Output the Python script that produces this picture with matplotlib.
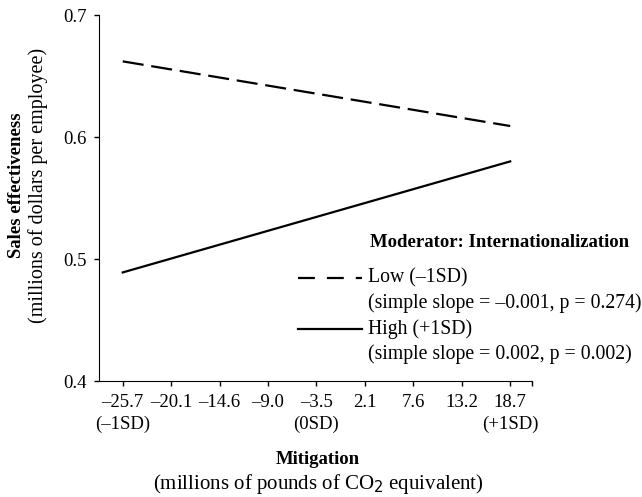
import matplotlib.pyplot as plt
from matplotlib.lines import Line2D

plt.rcParams['font.family'] = ['Liberation Serif', 'DejaVu Serif']
plt.rcParams['font.size'] = 13.5

# mitigation tick values (x positions are evenly spaced)
mitigation = ["–25.7", "–20.1", "–14.6", "–9.0", "–3.5", "2.1", "7.6", "13.2", "18.7"]
sd_marks = {0: "(–1SD)", 4: "(0SD)", 8: "(+1SD)"}

# simple slopes, endpoints at -1SD and +1SD of mitigation
line_x = [0, 8]
low_y = [0.662, 0.609]
high_y = [0.489, 0.580]

legend_title = "Moderator: Internationalization"
low_label = ["Low (–1SD)", "(simple slope = –0.001, p = 0.274)"]
high_label = ["High (+1SD)", "(simple slope = 0.002, p = 0.002)"]

W, H = 642, 497
fig = plt.figure(figsize=(6.42, 4.97), dpi=100)
ax = fig.add_axes([99 / W, 1 - 381 / H, (532 - 99) / W, (381 - 15) / H])

ax.plot(line_x, low_y, color="black", lw=1.6, ls=(0, (9.5, 3.5)))
ax.plot(line_x, high_y, color="black", lw=1.6)

ax.set_xlim(-0.49, 8.45)
ax.set_ylim(0.4, 0.7)
ax.set_yticks([0.4, 0.5, 0.6, 0.7])
ax.set_yticklabels(["0.4", "0.5", "0.6", "0.7"])

labels = []
for i, m in enumerate(mitigation):
    if i in sd_marks:
        labels.append(m + "\n" + sd_marks[i])
    else:
        labels.append(m)
ax.set_xticks(range(len(mitigation)))
ax.set_xticklabels(labels, va="top", linespacing=1.35)
ax.set_xticks([8.45], minor=True)

ax.spines["top"].set_visible(False)
ax.spines["right"].set_visible(False)
ax.tick_params(direction="out", length=3.6, width=1, which="both", pad=6)
ax.tick_params(axis="y", pad=5)

# y label, two parts
fig.text(17 / W, 1 - 185 / H, "Sales effectiveness", rotation=90, fontweight="bold",
         ha="center", va="center", fontsize=13.5)
fig.text(38 / W, 1 - 185 / H, "(millions of dollars per employee)", rotation=90,
         ha="center", va="center", fontsize=14.5)

# x label, two parts
fig.text(318 / W, 1 - 460 / H, "Mitigation", fontweight="bold", ha="center",
         va="center", fontsize=13.5)
fig.text(318 / W, 1 - 484 / H, "(millions of pounds of CO$_2$ equivalent)", ha="center",
         va="center", fontsize=15)

# legend, laid out by hand
fig.text(370 / W, 1 - 242 / H, legend_title, fontweight="bold", ha="left",
         va="center", fontsize=13.5)
entries = [(low_label, (0, (7.6, 5.4)), 278), (high_label, "-", 329)]
for (lab, style, yy) in entries:
    fig.add_artist(Line2D([298 / W, 362 / W], [1 - yy / H, 1 - yy / H],
                          transform=fig.transFigure, color="black", lw=1.6, ls=style))
    fig.text(368 / W, 1 - yy / H, lab[0], ha="left", va="center", fontsize=14.2)
    fig.text(368 / W, 1 - (yy + 25) / H, lab[1], ha="left", va="center", fontsize=14.2)

fig.savefig("out.png", dpi=100)
